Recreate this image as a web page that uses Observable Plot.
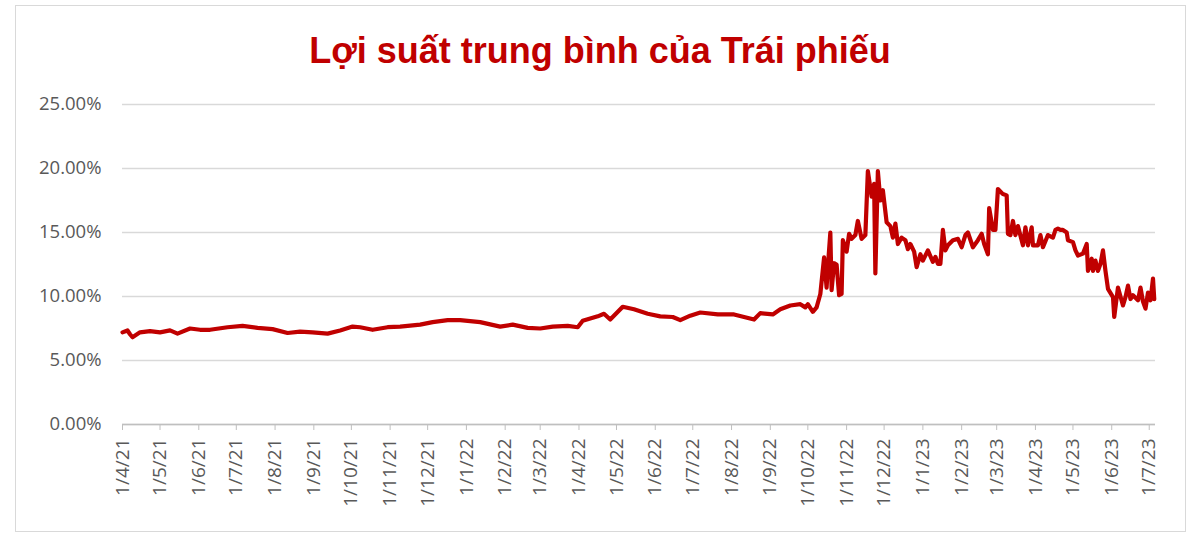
<!DOCTYPE html>
<html>
<head>
<meta charset="utf-8">
<script src="https://cdn.jsdelivr.net/npm/d3@7"></script>
<script src="https://cdn.jsdelivr.net/npm/@observablehq/plot@0.6"></script>
<style>
  html, body { margin: 0; padding: 0; background: #fff; }
  body { position: relative; width: 1200px; height: 549px; overflow: hidden; }
  #frame { position: absolute; left: 15px; top: 5px; width: 1169px; height: 525px; border: 1px solid #d9d9d9; pointer-events: none; }
  #title { height: 80px; box-sizing: border-box; padding-top: 31px; text-align: center; font-family: "Liberation Sans", Arial, sans-serif; font-weight: bold; font-size: 36px; line-height: 40px; color: #C00000; }
  #chart svg { display: block; }
</style>
</head>
<body>
<div id="frame"></div>
<div id="title">Lợi suất trung bình của Trái phiếu</div>
<div id="chart"></div>
<script>
const dates2021 = ["2021-04-01","2021-04-05","2021-04-07","2021-04-09","2021-04-15","2021-04-23","2021-05-01","2021-05-09","2021-05-15","2021-05-25","2021-06-02","2021-06-10","2021-06-24","2021-07-06","2021-07-18","2021-07-30","2021-08-11","2021-08-21","2021-08-31","2021-09-12","2021-09-22","2021-10-02","2021-10-08","2021-10-18","2021-10-30","2021-11-09","2021-11-25","2021-12-05","2021-12-17","2021-12-27"];
const yields2021 = [7.2,7.35,7.05,6.82,7.2,7.3,7.2,7.35,7.1,7.5,7.4,7.4,7.6,7.7,7.55,7.45,7.15,7.25,7.2,7.1,7.35,7.65,7.6,7.4,7.6,7.65,7.8,8.0,8.15,8.15];

const dates2022 = ["2022-01-12","2022-01-28","2022-02-07","2022-02-19","2022-03-01","2022-03-11","2022-03-23","2022-03-31","2022-04-04","2022-04-16","2022-04-21","2022-04-26","2022-05-06","2022-05-15","2022-05-26","2022-06-05","2022-06-15","2022-06-21","2022-06-29","2022-07-07","2022-07-21","2022-08-03","2022-08-11","2022-08-19","2022-08-24","2022-09-03","2022-09-09","2022-09-17","2022-09-25","2022-09-29","2022-10-01","2022-10-05","2022-10-08","2022-10-11","2022-10-14","2022-10-16","2022-10-17","2022-10-19","2022-10-20","2022-10-22","2022-10-24","2022-10-26","2022-10-28","2022-10-29","2022-11-01","2022-11-03","2022-11-05","2022-11-08","2022-11-10","2022-11-13","2022-11-16","2022-11-18","2022-11-21","2022-11-23","2022-11-24","2022-11-26","2022-11-28","2022-11-30","2022-12-03","2022-12-06","2022-12-08","2022-12-10","2022-12-12","2022-12-15","2022-12-18","2022-12-20","2022-12-22","2022-12-25","2022-12-27","2022-12-30"];
const yields2022 = [8.0,7.65,7.8,7.55,7.5,7.65,7.7,7.6,8.1,8.45,8.65,8.2,9.2,9.0,8.65,8.45,8.4,8.15,8.5,8.75,8.6,8.6,8.4,8.2,8.7,8.6,9.0,9.3,9.4,9.15,9.4,8.8,9.15,10.2,13.05,10.7,12.3,15.0,10.5,12.6,12.5,10.1,10.2,14.4,13.5,14.9,14.5,14.8,15.9,14.5,14.8,19.8,17.8,18.8,11.8,19.8,17.5,18.3,15.8,15.5,14.6,15.7,14.1,14.6,14.4,13.7,14.1,13.5,12.3,13.3];

const dates2023 = ["2023-01-01","2023-01-05","2023-01-09","2023-01-11","2023-01-13","2023-01-15","2023-01-17","2023-01-19","2023-01-21","2023-01-25","2023-01-29","2023-02-01","2023-02-04","2023-02-06","2023-02-10","2023-02-14","2023-02-17","2023-02-19","2023-02-22","2023-02-23","2023-02-26","2023-02-28","2023-03-02","2023-03-06","2023-03-09","2023-03-10","2023-03-12","2023-03-14","2023-03-16","2023-03-18","2023-03-22","2023-03-24","2023-03-26","2023-03-29","2023-03-30","2023-04-03","2023-04-05","2023-04-07","2023-04-11","2023-04-15","2023-04-17","2023-04-19","2023-04-21","2023-04-23","2023-04-26","2023-04-27","2023-05-01","2023-05-03","2023-05-05","2023-05-09","2023-05-12","2023-05-13","2023-05-16","2023-05-17","2023-05-19","2023-05-21","2023-05-23","2023-05-25","2023-05-27","2023-05-29","2023-06-02","2023-06-03","2023-06-05","2023-06-06","2023-06-10","2023-06-12","2023-06-14","2023-06-16","2023-06-18","2023-06-22","2023-06-24","2023-06-26","2023-06-28","2023-06-30","2023-07-02","2023-07-04","2023-07-05"];
const yields2023 = [12.8,13.6,12.7,13.1,12.55,12.55,15.2,13.6,14.0,14.4,14.5,13.85,14.8,15.0,13.85,14.4,14.9,14.1,13.3,16.9,15.2,15.2,18.4,18.0,17.9,14.9,14.8,15.9,14.8,15.5,14.0,15.4,14.0,15.4,14.0,14.0,14.8,13.85,14.8,14.6,15.2,15.3,15.2,15.2,15.0,14.4,14.25,13.6,13.2,13.35,14.1,12.0,12.95,12.0,12.8,12.0,12.55,13.6,12.0,10.6,9.95,8.4,9.95,10.7,9.3,9.95,10.85,9.8,10.1,9.7,10.7,9.6,9.05,10.3,9.7,11.4,9.8];

const yTicks = [0, 5, 10, 15, 20, 25];
const xTickLabels = ["1/4/21","1/5/21","1/6/21","1/7/21","1/8/21","1/9/21","1/10/21","1/11/21","1/12/21","1/1/22","1/2/22","1/3/22","1/4/22","1/5/22","1/6/22","1/7/22","1/8/22","1/9/22","1/10/22","1/11/22","1/12/22","1/1/23","1/2/23","1/3/23","1/4/23","1/5/23","1/6/23","1/7/23"];

const parseDMY = s => { const [d, m, y] = s.split("/").map(Number); return new Date(Date.UTC(2000 + y, m - 1, d)); };
const xTicks = xTickLabels.map(parseDMY);
const labelByTime = new Map(xTicks.map((d, i) => [+d, xTickLabels[i]]));

const allDates = dates2021.concat(dates2022, dates2023);
const allYields = yields2021.concat(yields2022, yields2023);
const data = allDates.map((d, i) => ({ date: new Date(d), value: allYields[i] }));

const chart = Plot.plot({
  width: 1200,
  height: 469,
  marginTop: 24,
  marginBottom: 125,
  marginLeft: 122,
  marginRight: 45,
  style: { fontFamily: "'Open Sans', sans-serif", fontSize: "18px", color: "#595959", background: "transparent" },
  x: { type: "utc", domain: [new Date("2021-04-01"), new Date("2023-07-06")] },
  y: { domain: [0, 25] },
  marks: [
    Plot.gridY(yTicks, { stroke: "#d9d9d9", strokeOpacity: 1, strokeWidth: 1.3 }),
    Plot.axisY(yTicks, { tickSize: 0, tickPadding: 21, tickFormat: v => v.toFixed(2) + "%", fontSize: 18.5, fill: "#595959", label: null }),
    Plot.ruleY([0], { stroke: "#bfbfbf", strokeWidth: 1.3 }),
    Plot.axisX(xTicks, { tickRotate: -90, tickSize: 6, tickPadding: 8, tickFormat: d => labelByTime.get(+d), fontSize: 19, stroke: "#bfbfbf", fill: "#595959", label: null }),
    Plot.lineY(data, { x: "date", y: "value", stroke: "#C00000", strokeWidth: 4.2, strokeLinejoin: "round" })
  ]
});
document.getElementById("chart").appendChild(chart);
</script>
</body>
</html>
